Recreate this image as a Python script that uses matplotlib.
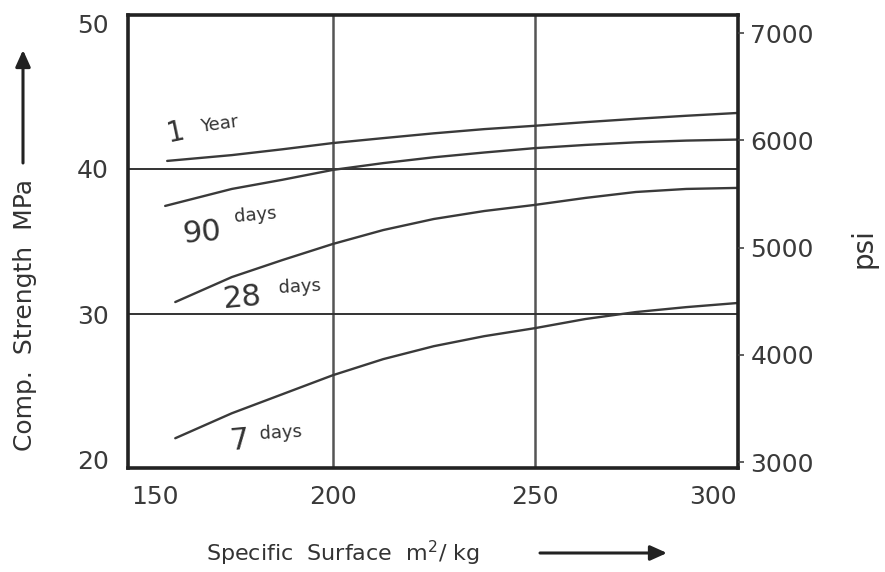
import matplotlib
matplotlib.use("Agg")
import matplotlib.pyplot as plt
from matplotlib.patches import FancyArrowPatch

# ---- data ----
x_1year = [159, 175, 187.5, 200, 212.5, 225, 237.5, 250, 262.5, 275, 287.5, 300]
y_1year = [40.55, 40.95, 41.35, 41.78, 42.12, 42.45, 42.74, 42.97, 43.22, 43.45, 43.66, 43.85]

x_90d = [158.5, 175, 187.5, 200, 212.5, 225, 237.5, 250, 262.5, 275, 287.5, 300]
y_90d = [37.45, 38.62, 39.25, 39.93, 40.4, 40.8, 41.13, 41.43, 41.65, 41.83, 41.95, 42.02]

x_28d = [161, 175, 187.5, 200, 212.5, 225, 237.5, 250, 262.5, 275, 287.5, 300]
y_28d = [30.83, 32.55, 33.72, 34.83, 35.79, 36.55, 37.1, 37.52, 38.0, 38.41, 38.62, 38.69]

x_7d = [161, 175, 187.5, 200, 212.5, 225, 237.5, 250, 262.5, 275, 287.5, 300]
y_7d = [21.45, 23.17, 24.48, 25.79, 26.9, 27.79, 28.48, 29.03, 29.66, 30.14, 30.48, 30.76]

x_ticks = [150, 200, 250, 300]
y_ticks = [20, 30, 40, 50]
psi_ticks = [3000, 4000, 5000, 6000, 7000]

FONT = "DejaVu Sans"
plt.rcParams["font.family"] = [FONT]

fig = plt.figure(figsize=(8.85, 5.72), dpi=100)
ax = fig.add_axes([128 / 885, 1 - 468 / 572, (738 - 128) / 885, (468 - 15) / 572])

line_kw = dict(color="#3a3a3a", lw=1.7, solid_capstyle="round", solid_joinstyle="round")
ax.plot(x_1year, y_1year, **line_kw)
ax.plot(x_90d, y_90d, **line_kw)
ax.plot(x_28d, y_28d, **line_kw)
ax.plot(x_7d, y_7d, **line_kw)

ax.set_xlim(149.3, 300.3)
ax.set_ylim(19.4, 50.6)

# grid lines
for gx in [200, 250]:
    ax.axvline(gx, color="#555555", lw=1.8, zorder=0)
for gy in [30, 40]:
    ax.axhline(gy, color="#333333", lw=1.4, zorder=0)

for s in ax.spines.values():
    s.set_linewidth(2.6)
    s.set_color("#222222")

ax.set_xticks(x_ticks)
ax.set_xticklabels([str(v) for v in x_ticks])
ax.set_yticks(y_ticks)
ax.set_yticklabels([str(v) for v in y_ticks])
ax.tick_params(axis="both", length=0, labelsize=18, labelcolor="#3a3a3a")
ax.tick_params(axis="x", pad=12)
ax.tick_params(axis="y", pad=14)
xl = ax.get_xticklabels()
xl[0].set_horizontalalignment("left")
xl[-1].set_horizontalalignment("right")

ax2 = ax.twinx()
ax2.set_ylim(2946, 7168)
ax2.set_yticks(psi_ticks)
ax2.set_yticklabels([str(v) for v in psi_ticks])
ax2.tick_params(axis="y", length=4, width=1.2, color="#444444", labelsize=18,
                labelcolor="#3a3a3a", pad=5)
for s in ax2.spines.values():
    s.set_visible(False)

# curve labels
tc = "#333333"
ax.text(161.1, 42.55, "1", fontsize=20, rotation=12, ha="center", va="center", color=tc)
ax.text(171.8, 43.1, "Year", fontsize=13, rotation=8, ha="center", va="center", color=tc)
ax.text(167.6, 35.6, "90", fontsize=22, rotation=5, ha="center", va="center", color=tc)
ax.text(180.9, 36.8, "days", fontsize=13, rotation=5, ha="center", va="center", color=tc)
ax.text(177.5, 31.1, "28", fontsize=22, rotation=5, ha="center", va="center", color=tc)
ax.text(191.8, 31.85, "days", fontsize=13, rotation=3, ha="center", va="center", color=tc)
ax.text(177.0, 21.3, "7", fontsize=22, rotation=5, ha="center", va="center", color=tc)
ax.text(187.2, 21.85, "days", fontsize=13, rotation=3, ha="center", va="center", color=tc)

# axis titles
fig.text(25 / 885, 1 - 315 / 572, "Comp.  Strength  MPa", rotation=90,
         fontsize=18, ha="center", va="center", color=tc)
fig.text(863 / 885, 1 - 248 / 572, "psi", rotation=90,
         fontsize=20, ha="center", va="center", color=tc)
fig.text(343 / 885, 1 - 553 / 572, "Specific  Surface  m$^{2}$/ kg",
         fontsize=16, ha="center", va="center", color=tc)

# arrows
arrow_style = "-|>,head_length=10,head_width=4.5"
fig.add_artist(FancyArrowPatch(
    (23 / 885, 1 - 163 / 572), (23 / 885, 1 - 50 / 572), transform=fig.transFigure,
    arrowstyle=arrow_style, lw=2.2, color="#222222", mutation_scale=1,
    shrinkA=0, shrinkB=0))
fig.add_artist(FancyArrowPatch(
    (540 / 885, 1 - 553 / 572), (667 / 885, 1 - 553 / 572), transform=fig.transFigure,
    arrowstyle=arrow_style, lw=2.2, color="#222222", mutation_scale=1,
    shrinkA=0, shrinkB=0))

fig.savefig("out.png", dpi=100)
